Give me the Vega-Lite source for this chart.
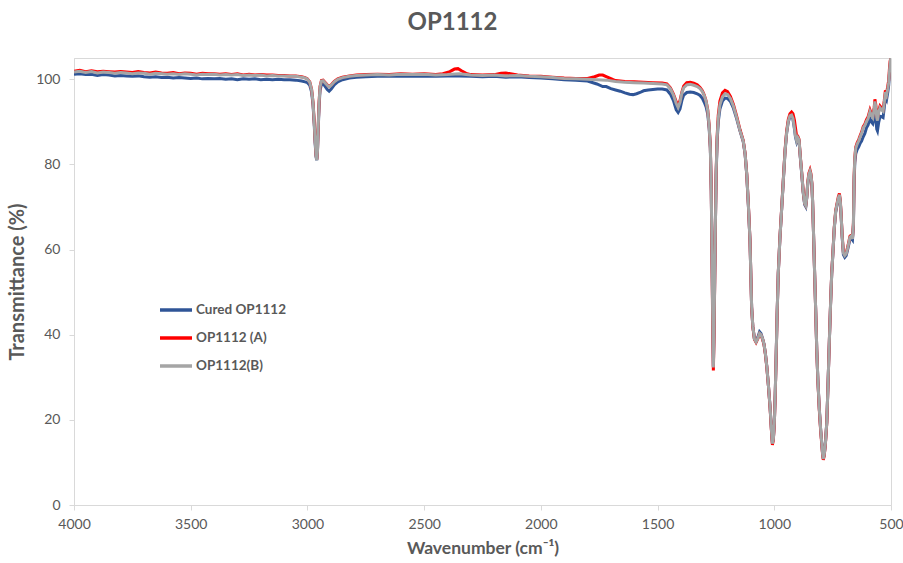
{
  "$schema": "https://vega.github.io/schema/vega-lite/v6.json",
  "width": 817,
  "height": 447,
  "autosize": {"type": "none"},
  "padding": {"left": 74, "top": 58, "right": 12, "bottom": 58},
  "background": "white",
  "title": {"text": "OP1112", "font": "Lato", "fontSize": 24, "fontWeight": "bold", "color": "#595959", "anchor": "middle", "dx": -30, "offset": 23},
  "config": {
    "view": {"stroke": "#d9d9d9", "strokeWidth": 1},
    "axis": {"grid": false, "domainColor": "#d9d9d9", "tickColor": "#d9d9d9", "tickSize": 5, "labelFont": "Lato", "labelFontSize": 14, "labelColor": "#595959", "titleFont": "Lato", "titleFontWeight": "bold", "titleColor": "#595959"}
  },
  "datasets": {
    "cured": [
      {"w":4000,"t":101.2},{"w":3975,"t":101.3},{"w":3950,"t":101.1},{"w":3925,"t":101.2},{"w":3900,"t":100.9},{"w":3875,"t":101.1},{"w":3850,"t":101.0},{"w":3825,"t":100.8},{"w":3800,"t":100.9},{"w":3775,"t":100.8},{"w":3750,"t":100.7},{"w":3725,"t":100.8},{"w":3700,"t":100.6},{"w":3675,"t":100.5},{"w":3650,"t":100.6},{"w":3625,"t":100.4},{"w":3600,"t":100.5},{"w":3575,"t":100.3},{"w":3550,"t":100.4},{"w":3525,"t":100.3},{"w":3500,"t":100.2},{"w":3475,"t":100.3},{"w":3450,"t":100.1},{"w":3425,"t":100.2},{"w":3400,"t":100.1},{"w":3375,"t":100.2},{"w":3350,"t":100.0},{"w":3325,"t":100.1},{"w":3300,"t":99.9},{"w":3275,"t":100.1},{"w":3250,"t":100.0},{"w":3225,"t":100.1},{"w":3200,"t":99.9},{"w":3175,"t":100.0},{"w":3150,"t":99.9},{"w":3125,"t":100.0},{"w":3100,"t":99.9},{"w":3075,"t":99.9},{"w":3050,"t":99.8},{"w":3025,"t":99.6},{"w":3010,"t":99.4},{"w":3000,"t":99.2},
      {"w":2990,"t":98.6},{"w":2982,"t":97},{"w":2976,"t":94},{"w":2971,"t":89.5},{"w":2967,"t":85},{"w":2963,"t":81.8},{"w":2960,"t":81},{"w":2957,"t":83},{"w":2954,"t":88},{"w":2950,"t":93.8},{"w":2946,"t":97.4},{"w":2940,"t":98.8},{"w":2933,"t":99.0},{"w":2925,"t":98.4},{"w":2915,"t":97.6},{"w":2907,"t":97.2},{"w":2898,"t":97.7},{"w":2885,"t":98.7},{"w":2870,"t":99.4},{"w":2850,"t":99.9},{"w":2820,"t":100.3},{"w":2790,"t":100.5},{"w":2750,"t":100.6},{"w":2700,"t":100.7},{"w":2650,"t":100.7},{"w":2600,"t":100.8},{"w":2550,"t":100.7},{"w":2500,"t":100.8},{"w":2450,"t":100.7},{"w":2400,"t":100.8},{"w":2350,"t":100.8},{"w":2300,"t":100.7},{"w":2250,"t":100.6},{"w":2200,"t":100.7},{"w":2150,"t":100.5},{"w":2100,"t":100.6},{"w":2050,"t":100.4},{"w":2000,"t":100.3},{"w":1950,"t":100.1},{"w":1900,"t":99.9},{"w":1850,"t":99.8},{"w":1800,"t":99.6},{"w":1760,"t":98.9},{"w":1735,"t":98.3},{"w":1720,"t":98.3},{"w":1700,"t":97.8},{"w":1680,"t":97.5},{"w":1660,"t":97.2},{"w":1640,"t":96.8},{"w":1620,"t":96.5},{"w":1605,"t":96.4},{"w":1590,"t":96.6},{"w":1575,"t":96.9},{"w":1560,"t":97.3},{"w":1540,"t":97.5},{"w":1520,"t":97.6},{"w":1500,"t":97.7},{"w":1480,"t":97.7},{"w":1460,"t":97.5},{"w":1445,"t":96.5},{"w":1432,"t":95.0},{"w":1420,"t":92.8},{"w":1412,"t":92.2},{"w":1404,"t":93.0},{"w":1396,"t":95.0},{"w":1388,"t":96.3},{"w":1375,"t":96.9},{"w":1360,"t":97.0},{"w":1345,"t":96.9},{"w":1330,"t":96.6},{"w":1318,"t":96.2},{"w":1308,"t":95.5},{"w":1300,"t":94.6},{"w":1292,"t":93.5},{"w":1285,"t":91.8},{"w":1279,"t":88.5},{"w":1274,"t":83.8},{"w":1270,"t":73.8},{"w":1267,"t":60},{"w":1264,"t":45},{"w":1261,"t":32.5},{"w":1258,"t":41},{"w":1255,"t":54},{"w":1252,"t":67},{"w":1249,"t":77.6},{"w":1245,"t":85.3},{"w":1240,"t":90.0},{"w":1233,"t":93.0},{"w":1222,"t":94.9},{"w":1211,"t":95.6},{"w":1200,"t":95.5},{"w":1188,"t":94.8},{"w":1175,"t":93.2},{"w":1161,"t":90.7},{"w":1147,"t":87.9},{"w":1133,"t":85.4},
      {"w":1125,"t":82.4},{"w":1118,"t":77.6},{"w":1111,"t":70.4},{"w":1104,"t":62},{"w":1100,"t":53},{"w":1097,"t":46.5},{"w":1092,"t":42},{"w":1085,"t":39},{"w":1078,"t":38.4},{"w":1070,"t":39.5},{"w":1063,"t":40.7},{"w":1057,"t":40.3},{"w":1050,"t":39.1},{"w":1044,"t":37.8},{"w":1038,"t":35.5},{"w":1032,"t":32.5},{"w":1025,"t":28},{"w":1018,"t":23},{"w":1012,"t":17.5},{"w":1008,"t":14.5},{"w":1004,"t":15.5},{"w":1000,"t":19},{"w":996,"t":26},{"w":992,"t":35},{"w":988,"t":44.5},{"w":983,"t":54.3},{"w":976,"t":62.5},{"w":968,"t":69.9},{"w":961,"t":76.5},{"w":954,"t":83},{"w":947,"t":87.4},{"w":940,"t":90.0},{"w":933,"t":91.2},{"w":926,"t":91.4},{"w":920,"t":90.6},{"w":914,"t":88.5},{"w":909,"t":86.4},{"w":904,"t":85.3},{"w":899,"t":86.1},{"w":894,"t":85.6},{"w":888,"t":81.3},{"w":882,"t":77.5},{"w":876,"t":73.3},{"w":870,"t":70.6},{"w":865,"t":70.1},{"w":861,"t":72},{"w":857,"t":75.2},{"w":852,"t":77.4},{"w":847,"t":78.2},{"w":843,"t":77.4},{"w":839,"t":75.3},{"w":836,"t":71.5},{"w":833,"t":66},{"w":828,"t":56},{"w":823,"t":46.5},{"w":818,"t":36.5},{"w":813,"t":29},{"w":807,"t":22.5},{"w":801,"t":17.5},{"w":797,"t":14.8},{"w":793,"t":12},{"w":790,"t":10.9},{"w":786,"t":11.8},{"w":781,"t":14.5},{"w":775,"t":19.5},{"w":770,"t":28},{"w":764,"t":38.7},{"w":759,"t":47},{"w":754,"t":54.3},{"w":748,"t":60},{"w":743,"t":65},{"w":737,"t":68.8},{"w":731,"t":70.5},{"w":726,"t":71.8},{"w":721,"t":72.7},{"w":717,"t":71},{"w":714,"t":68.2},{"w":709,"t":62.8},{"w":704,"t":58.8},{"w":698,"t":58.2},{"w":692,"t":58.6},{"w":686,"t":59.9},{"w":680,"t":61.4},{"w":676,"t":62.4},{"w":670,"t":62.7},{"w":665,"t":62.3},{"w":661,"t":65.5},{"w":658,"t":76},{"w":655,"t":80.5},{"w":651,"t":82.5},{"w":645,"t":83.5},{"w":638,"t":84.2},{"w":632,"t":85.0},{"w":626,"t":85.5},{"w":619,"t":86.5},{"w":612,"t":87.3},{"w":605,"t":88.6},{"w":598,"t":89.3},{"w":590,"t":90.8},{"w":584,"t":90.0},{"w":578,"t":89.6},{"w":572,"t":91.2},{"w":569,"t":92.5},{"w":565,"t":90.5},{"w":561,"t":88.3},{"w":558,"t":87.9},{"w":553,"t":89.8},{"w":547,"t":91.3},{"w":540,"t":91.2},{"w":534,"t":91.0},{"w":529,"t":93.3},{"w":524,"t":95.8},{"w":519,"t":95.2},{"w":514,"t":96.9},{"w":510,"t":98.5},{"w":507,"t":101},{"w":504,"t":103},{"w":501,"t":104.5}
    ],
    "a": [
      {"w":4000,"t":101.9},{"w":3975,"t":102.1},{"w":3950,"t":101.8},{"w":3925,"t":102.0},{"w":3900,"t":101.8},{"w":3875,"t":101.9},{"w":3850,"t":101.8},{"w":3825,"t":101.7},{"w":3800,"t":101.8},{"w":3775,"t":101.7},{"w":3750,"t":101.6},{"w":3725,"t":101.8},{"w":3700,"t":101.6},{"w":3675,"t":101.5},{"w":3650,"t":101.7},{"w":3625,"t":101.5},{"w":3600,"t":101.4},{"w":3575,"t":101.6},{"w":3550,"t":101.3},{"w":3525,"t":101.5},{"w":3500,"t":101.4},{"w":3475,"t":101.2},{"w":3450,"t":101.4},{"w":3425,"t":101.3},{"w":3400,"t":101.3},{"w":3375,"t":101.2},{"w":3350,"t":101.3},{"w":3325,"t":101.1},{"w":3300,"t":101.3},{"w":3275,"t":101.0},{"w":3250,"t":101.2},{"w":3225,"t":101.0},{"w":3200,"t":101.1},{"w":3175,"t":101.0},{"w":3150,"t":101.0},{"w":3125,"t":100.9},{"w":3100,"t":100.9},{"w":3075,"t":100.8},{"w":3050,"t":100.8},{"w":3025,"t":100.6},{"w":3010,"t":100.4},{"w":3000,"t":100.1},
      {"w":2990,"t":99.4},{"w":2982,"t":97.6},{"w":2976,"t":94.6},{"w":2971,"t":90.2},{"w":2967,"t":85.8},{"w":2963,"t":82.2},{"w":2960,"t":81.2},{"w":2957,"t":83.3},{"w":2954,"t":88.8},{"w":2950,"t":94.7},{"w":2946,"t":98.3},{"w":2940,"t":99.7},{"w":2933,"t":99.8},{"w":2925,"t":99.3},{"w":2915,"t":98.7},{"w":2907,"t":98.3},{"w":2898,"t":98.7},{"w":2885,"t":99.5},{"w":2870,"t":100.1},{"w":2850,"t":100.5},{"w":2820,"t":100.8},{"w":2790,"t":101.0},{"w":2750,"t":101.1},{"w":2700,"t":101.2},{"w":2650,"t":101.1},{"w":2600,"t":101.3},{"w":2550,"t":101.2},{"w":2500,"t":101.3},{"w":2450,"t":101.1},{"w":2420,"t":101.3},{"w":2390,"t":101.8},{"w":2370,"t":102.4},{"w":2355,"t":102.5},{"w":2340,"t":102.0},{"w":2320,"t":101.4},{"w":2300,"t":101.1},{"w":2250,"t":101.0},{"w":2200,"t":101.1},{"w":2170,"t":101.4},{"w":2150,"t":101.5},{"w":2130,"t":101.3},{"w":2100,"t":101.0},{"w":2050,"t":100.8},{"w":2000,"t":100.7},{"w":1950,"t":100.5},{"w":1900,"t":100.3},{"w":1850,"t":100.2},{"w":1800,"t":100.2},{"w":1770,"t":100.6},{"w":1750,"t":101.0},{"w":1735,"t":101.0},{"w":1715,"t":100.5},{"w":1690,"t":99.9},{"w":1680,"t":99.7},{"w":1640,"t":99.5},{"w":1600,"t":99.4},{"w":1560,"t":99.3},{"w":1520,"t":99.2},{"w":1480,"t":99.1},{"w":1460,"t":98.9},{"w":1445,"t":98.0},{"w":1432,"t":96.5},{"w":1420,"t":94.7},{"w":1412,"t":94.0},{"w":1404,"t":95.0},{"w":1396,"t":97.0},{"w":1388,"t":98.4},{"w":1375,"t":99.2},{"w":1360,"t":99.3},{"w":1345,"t":99.1},{"w":1330,"t":98.7},{"w":1318,"t":98.1},{"w":1308,"t":97.3},{"w":1300,"t":96.3},{"w":1292,"t":94.9},{"w":1285,"t":92.8},{"w":1279,"t":89.2},{"w":1274,"t":84.2},{"w":1270,"t":74},{"w":1267,"t":59},{"w":1264,"t":43},{"w":1261,"t":31.6},{"w":1258,"t":40},{"w":1255,"t":53.5},{"w":1252,"t":67},{"w":1249,"t":78.3},{"w":1245,"t":86.5},{"w":1240,"t":91.6},{"w":1233,"t":94.9},{"w":1222,"t":96.8},{"w":1211,"t":97.4},{"w":1200,"t":97.1},{"w":1188,"t":96.0},{"w":1175,"t":94.1},{"w":1161,"t":91.3},{"w":1147,"t":88.2},{"w":1133,"t":85.6},
      {"w":1125,"t":82.6},{"w":1118,"t":77.8},{"w":1111,"t":70.6},{"w":1104,"t":62.1},{"w":1100,"t":53},{"w":1097,"t":46.4},{"w":1092,"t":41.9},{"w":1085,"t":38.9},{"w":1078,"t":38.2},{"w":1070,"t":39.1},{"w":1063,"t":40.2},{"w":1057,"t":39.9},{"w":1050,"t":38.9},{"w":1044,"t":37.7},{"w":1038,"t":35.4},{"w":1032,"t":32.4},{"w":1025,"t":27.9},{"w":1018,"t":22.8},{"w":1012,"t":17.2},{"w":1008,"t":14.1},{"w":1004,"t":15.3},{"w":1000,"t":18.8},{"w":996,"t":25.8},{"w":992,"t":34.8},{"w":988,"t":44.5},{"w":983,"t":54.4},{"w":976,"t":62.7},{"w":968,"t":70.1},{"w":961,"t":76.8},{"w":954,"t":83.3},{"w":947,"t":87.9},{"w":940,"t":90.6},{"w":933,"t":91.9},{"w":926,"t":92.3},{"w":920,"t":91.9},{"w":914,"t":90.5},{"w":909,"t":88.5},{"w":904,"t":86.5},{"w":899,"t":86.6},{"w":894,"t":85.9},{"w":888,"t":81.6},{"w":882,"t":77.8},{"w":876,"t":73.6},{"w":870,"t":70.9},{"w":865,"t":70.4},{"w":861,"t":72.3},{"w":857,"t":75.6},{"w":852,"t":77.9},{"w":847,"t":78.7},{"w":843,"t":77.8},{"w":839,"t":75.6},{"w":836,"t":71.6},{"w":833,"t":66},{"w":828,"t":56},{"w":823,"t":46.4},{"w":818,"t":36.3},{"w":813,"t":28.8},{"w":807,"t":22.2},{"w":801,"t":17.2},{"w":797,"t":14.5},{"w":793,"t":11.7},{"w":790,"t":10.6},{"w":786,"t":11.6},{"w":781,"t":14.3},{"w":775,"t":19.4},{"w":770,"t":28},{"w":764,"t":38.8},{"w":759,"t":47.1},{"w":754,"t":54.5},{"w":748,"t":60.2},{"w":743,"t":65.2},{"w":737,"t":69.2},{"w":731,"t":70.9},{"w":726,"t":72.3},{"w":721,"t":73.2},{"w":717,"t":71.4},{"w":714,"t":68.6},{"w":709,"t":63.2},{"w":704,"t":59.4},{"w":698,"t":58.8},{"w":692,"t":59.2},{"w":686,"t":60.5},{"w":680,"t":62},{"w":676,"t":63.1},{"w":670,"t":63.4},{"w":665,"t":62.7},{"w":661,"t":66.3},{"w":658,"t":77.3},{"w":655,"t":81.8},{"w":651,"t":84.1},{"w":645,"t":85.1},{"w":638,"t":85.9},{"w":632,"t":86.8},{"w":626,"t":87.6},{"w":619,"t":88.9},{"w":612,"t":89.5},{"w":605,"t":90.5},{"w":598,"t":91.2},{"w":590,"t":92.8},{"w":584,"t":91.9},{"w":578,"t":91.4},{"w":572,"t":93.4},{"w":569,"t":95.3},{"w":565,"t":94},{"w":561,"t":91.4},{"w":558,"t":90.7},{"w":553,"t":92.6},{"w":547,"t":93.7},{"w":540,"t":93.2},{"w":534,"t":92.9},{"w":529,"t":94.9},{"w":524,"t":97.4},{"w":519,"t":96.7},{"w":514,"t":98.3},{"w":510,"t":99.7},{"w":507,"t":102.2},{"w":504,"t":104.2},{"w":501,"t":105}
    ],
    "b": [
      {"w":4000,"t":101.7},{"w":3975,"t":101.9},{"w":3950,"t":101.6},{"w":3925,"t":101.8},{"w":3900,"t":101.5},{"w":3875,"t":101.7},{"w":3850,"t":101.6},{"w":3825,"t":101.4},{"w":3800,"t":101.6},{"w":3775,"t":101.5},{"w":3750,"t":101.3},{"w":3725,"t":101.5},{"w":3700,"t":101.4},{"w":3675,"t":101.2},{"w":3650,"t":101.4},{"w":3625,"t":101.3},{"w":3600,"t":101.2},{"w":3575,"t":101.3},{"w":3550,"t":101.1},{"w":3525,"t":101.3},{"w":3500,"t":101.2},{"w":3475,"t":101.0},{"w":3450,"t":101.2},{"w":3425,"t":101.1},{"w":3400,"t":101.2},{"w":3375,"t":101.0},{"w":3350,"t":101.1},{"w":3325,"t":101.0},{"w":3300,"t":101.1},{"w":3275,"t":100.9},{"w":3250,"t":101.0},{"w":3225,"t":100.9},{"w":3200,"t":101.0},{"w":3175,"t":100.8},{"w":3150,"t":100.9},{"w":3125,"t":100.8},{"w":3100,"t":100.8},{"w":3075,"t":100.7},{"w":3050,"t":100.7},{"w":3025,"t":100.5},{"w":3010,"t":100.3},{"w":3000,"t":100.0},
      {"w":2990,"t":99.3},{"w":2982,"t":97.5},{"w":2976,"t":94.5},{"w":2971,"t":90},{"w":2967,"t":85.5},{"w":2963,"t":82},{"w":2960,"t":81},{"w":2957,"t":83},{"w":2954,"t":88.5},{"w":2950,"t":94.5},{"w":2946,"t":98.2},{"w":2940,"t":99.6},{"w":2933,"t":99.7},{"w":2925,"t":99.2},{"w":2915,"t":98.6},{"w":2907,"t":98.2},{"w":2898,"t":98.6},{"w":2885,"t":99.4},{"w":2870,"t":100.0},{"w":2850,"t":100.4},{"w":2820,"t":100.7},{"w":2790,"t":100.9},{"w":2750,"t":101.0},{"w":2700,"t":101.1},{"w":2650,"t":101.0},{"w":2600,"t":101.2},{"w":2550,"t":101.1},{"w":2500,"t":101.2},{"w":2450,"t":101.0},{"w":2400,"t":101.1},{"w":2350,"t":101.3},{"w":2300,"t":101.0},{"w":2250,"t":100.9},{"w":2200,"t":101.0},{"w":2150,"t":100.8},{"w":2100,"t":100.9},{"w":2050,"t":100.7},{"w":2000,"t":100.6},{"w":1950,"t":100.4},{"w":1900,"t":100.2},{"w":1850,"t":100.1},{"w":1800,"t":100.0},{"w":1760,"t":99.9},{"w":1720,"t":99.8},{"w":1680,"t":99.5},{"w":1640,"t":99.3},{"w":1600,"t":99.2},{"w":1560,"t":99.1},{"w":1520,"t":99.0},{"w":1480,"t":98.9},{"w":1460,"t":98.7},{"w":1445,"t":97.8},{"w":1432,"t":96.3},{"w":1420,"t":94.3},{"w":1412,"t":93.4},{"w":1404,"t":94.6},{"w":1396,"t":96.8},{"w":1388,"t":98.0},{"w":1375,"t":98.7},{"w":1360,"t":98.8},{"w":1345,"t":98.6},{"w":1330,"t":98.3},{"w":1318,"t":97.8},{"w":1308,"t":97.1},{"w":1300,"t":96.2},{"w":1292,"t":94.8},{"w":1285,"t":92.6},{"w":1279,"t":89},{"w":1274,"t":84},{"w":1270,"t":74},{"w":1267,"t":60},{"w":1264,"t":45},{"w":1261,"t":32.3},{"w":1258,"t":41},{"w":1255,"t":54},{"w":1252,"t":67},{"w":1249,"t":78},{"w":1245,"t":86},{"w":1240,"t":90.8},{"w":1233,"t":94.0},{"w":1222,"t":95.9},{"w":1211,"t":96.6},{"w":1200,"t":96.4},{"w":1188,"t":95.5},{"w":1175,"t":93.7},{"w":1161,"t":91},{"w":1147,"t":88},{"w":1133,"t":85.5},
      {"w":1125,"t":82.5},{"w":1118,"t":77.7},{"w":1111,"t":70.5},{"w":1104,"t":62},{"w":1100,"t":53},{"w":1097,"t":46.5},{"w":1092,"t":42},{"w":1085,"t":39},{"w":1078,"t":38.3},{"w":1070,"t":39.2},{"w":1063,"t":40.3},{"w":1057,"t":40},{"w":1050,"t":39},{"w":1044,"t":37.8},{"w":1038,"t":35.5},{"w":1032,"t":32.5},{"w":1025,"t":28},{"w":1018,"t":23},{"w":1012,"t":17.5},{"w":1008,"t":14.4},{"w":1004,"t":15.5},{"w":1000,"t":19},{"w":996,"t":26},{"w":992,"t":35},{"w":988,"t":44.5},{"w":983,"t":54.3},{"w":976,"t":62.5},{"w":968,"t":69.9},{"w":961,"t":76.5},{"w":954,"t":83},{"w":947,"t":87.5},{"w":940,"t":90.2},{"w":933,"t":91.4},{"w":926,"t":91.6},{"w":920,"t":90.8},{"w":914,"t":88.7},{"w":909,"t":86.6},{"w":904,"t":85.5},{"w":899,"t":86.3},{"w":894,"t":85.8},{"w":888,"t":81.5},{"w":882,"t":77.7},{"w":876,"t":73.5},{"w":870,"t":70.8},{"w":865,"t":70.3},{"w":861,"t":72.2},{"w":857,"t":75.4},{"w":852,"t":77.6},{"w":847,"t":78.4},{"w":843,"t":77.6},{"w":839,"t":75.5},{"w":836,"t":71.5},{"w":833,"t":66},{"w":828,"t":56},{"w":823,"t":46.5},{"w":818,"t":36.5},{"w":813,"t":29},{"w":807,"t":22.5},{"w":801,"t":17.5},{"w":797,"t":14.8},{"w":793,"t":12},{"w":790,"t":10.8},{"w":786,"t":11.8},{"w":781,"t":14.5},{"w":775,"t":19.5},{"w":770,"t":28},{"w":764,"t":38.7},{"w":759,"t":47},{"w":754,"t":54.3},{"w":748,"t":60},{"w":743,"t":65},{"w":737,"t":69},{"w":731,"t":70.7},{"w":726,"t":72},{"w":721,"t":72.9},{"w":717,"t":71.2},{"w":714,"t":68.4},{"w":709,"t":63},{"w":704,"t":59.2},{"w":698,"t":58.6},{"w":692,"t":59},{"w":686,"t":60.3},{"w":680,"t":61.8},{"w":676,"t":62.9},{"w":670,"t":63.2},{"w":665,"t":62.5},{"w":661,"t":66},{"w":658,"t":77},{"w":655,"t":81.5},{"w":651,"t":83.8},{"w":645,"t":84.8},{"w":638,"t":85.6},{"w":632,"t":86.5},{"w":626,"t":87.3},{"w":619,"t":88.6},{"w":612,"t":89.2},{"w":605,"t":90.1},{"w":598,"t":90.8},{"w":590,"t":92.4},{"w":584,"t":91.5},{"w":578,"t":91},{"w":572,"t":93},{"w":569,"t":94.8},{"w":565,"t":93.5},{"w":561,"t":91},{"w":558,"t":90.3},{"w":553,"t":92.2},{"w":547,"t":93.3},{"w":540,"t":92.8},{"w":534,"t":92.5},{"w":529,"t":94.5},{"w":524,"t":97},{"w":519,"t":96.3},{"w":514,"t":97.8},{"w":510,"t":99.2},{"w":507,"t":101.5},{"w":504,"t":103.5},{"w":501,"t":105}
    ]
  },
  "encoding": {
    "x": {"field": "w", "type": "quantitative", "scale": {"domain": [500, 4000], "reverse": true, "nice": false, "zero": false},
      "axis": {"values": [4000, 3500, 3000, 2500, 2000, 1500, 1000, 500], "format": "d", "labelFlush": false, "labelPadding": 7, "title": "Wavenumber (cm⁻¹)", "titleFontSize": 17.5, "titlePadding": 8}},
    "y": {"field": "t", "type": "quantitative", "scale": {"domain": [0, 105], "nice": false, "zero": false},
      "axis": {"values": [0, 20, 40, 60, 80, 100], "labelPadding": 9, "title": "Transmittance (%)", "titleFontSize": 20, "titlePadding": 8}},
    "color": {"datum": "Cured OP1112", "type": "nominal",
      "scale": {"domain": ["Cured OP1112", "OP1112 (A)", "OP1112(B)"], "range": ["#2F5597", "#FF0000", "#A5A5A5"]},
      "legend": {"title": null, "orient": "none", "legendX": 84, "legendY": 234, "symbolType": "stroke", "symbolSize": 1024, "symbolStrokeWidth": 3.5, "rowPadding": 3, "labelFont": "Lato", "labelFontSize": 13.5, "labelFontWeight": "bold", "labelColor": "#595959", "labelOffset": 2, "padding": 0}}
  },
  "layer": [
    {"data": {"name": "cured"}, "mark": {"type": "line", "strokeWidth": 3, "clip": true}, "encoding": {"color": {"datum": "Cured OP1112", "type": "nominal"}}},
    {"data": {"name": "a"}, "mark": {"type": "line", "strokeWidth": 3, "clip": true}, "encoding": {"color": {"datum": "OP1112 (A)", "type": "nominal"}}},
    {"data": {"name": "b"}, "mark": {"type": "line", "strokeWidth": 3, "clip": true}, "encoding": {"color": {"datum": "OP1112(B)", "type": "nominal"}}}
  ]
}
